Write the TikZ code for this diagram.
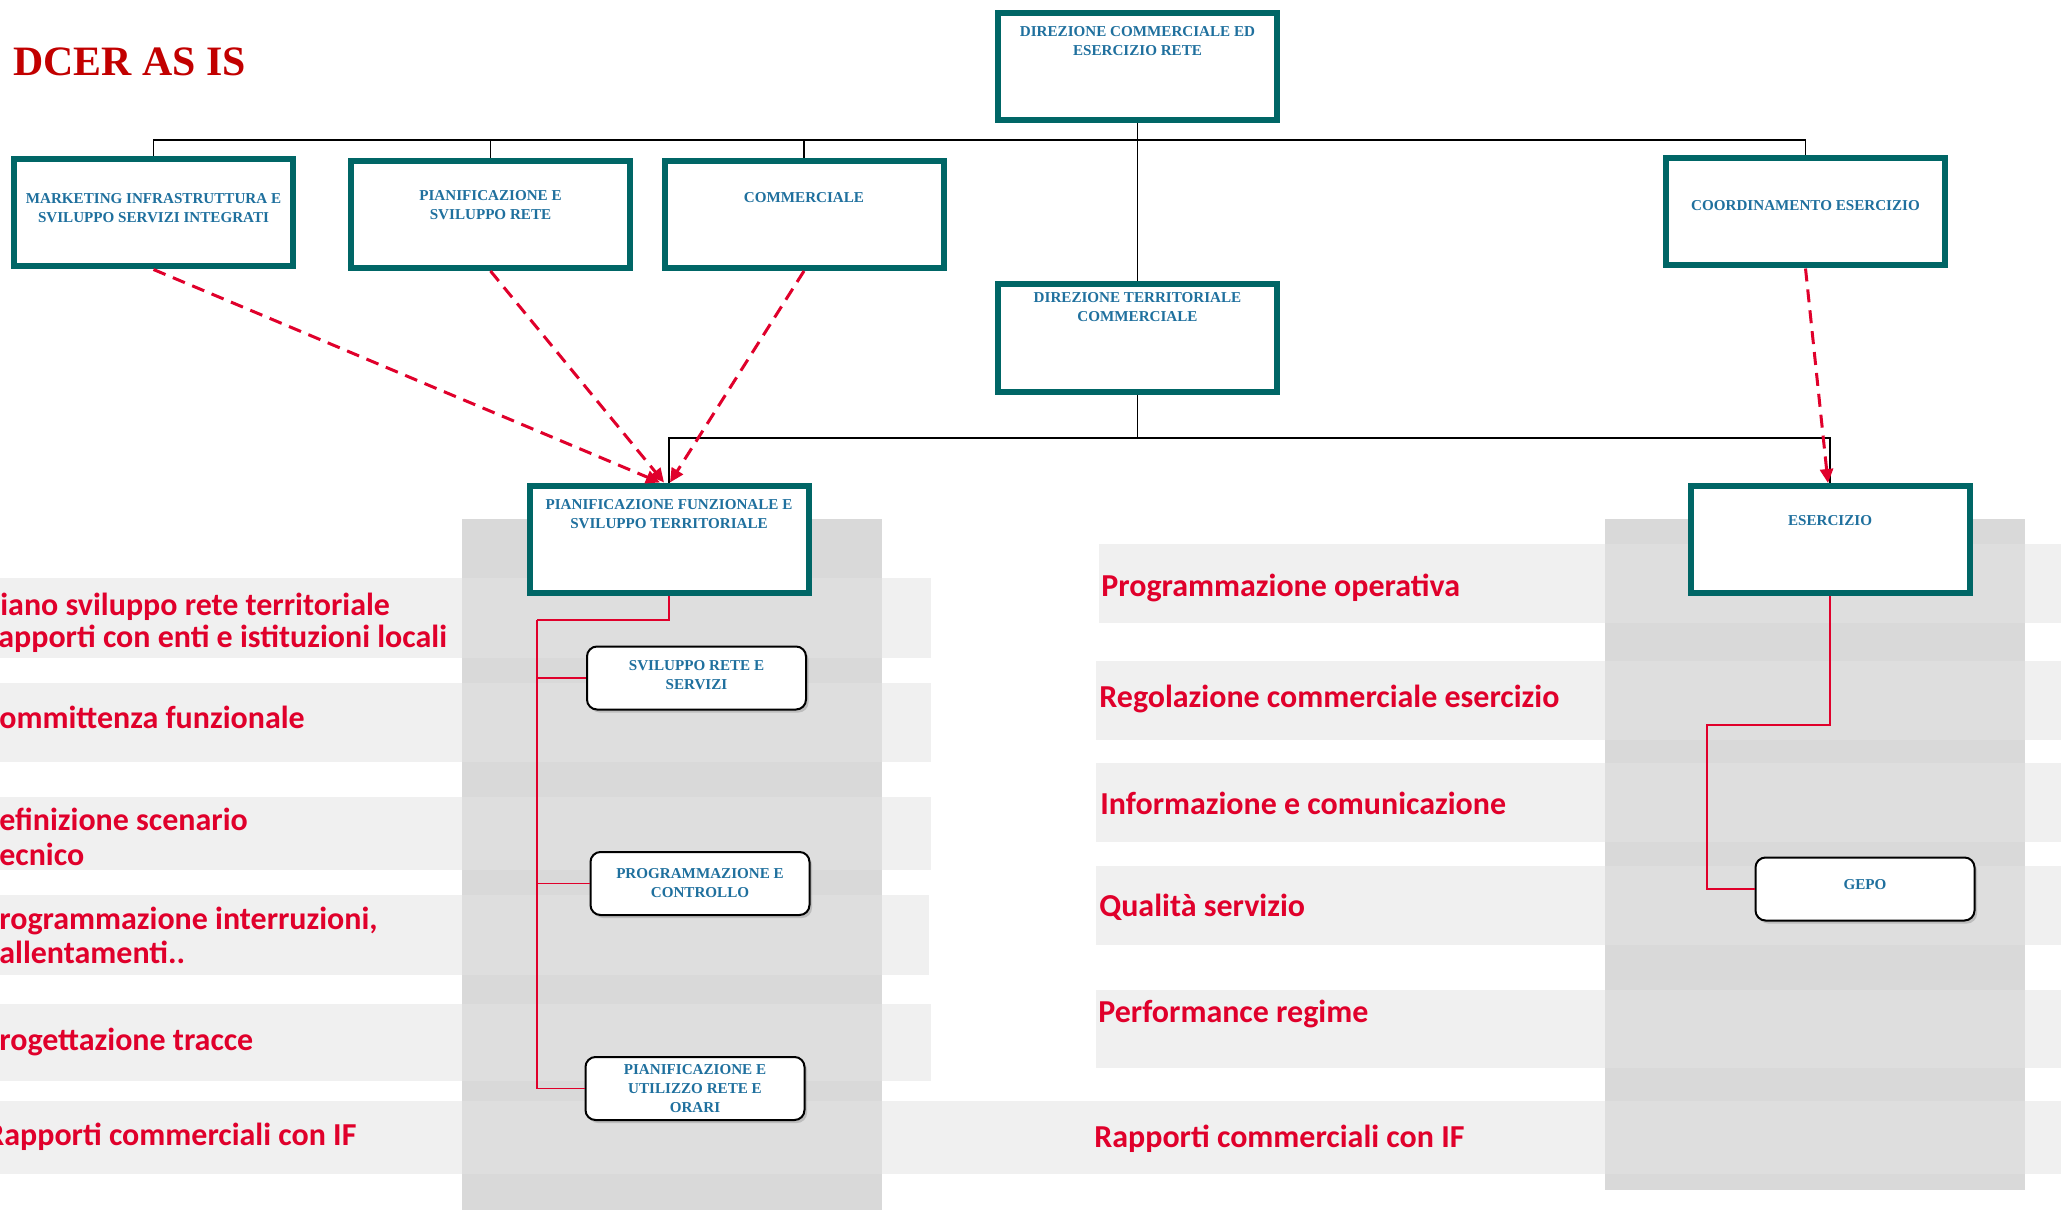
\documentclass[tikz,border=0pt]{standalone}
\usepackage{fontspec}
\setmainfont{Liberation Serif}
\newfontfamily\calfont{Carlito}
\usetikzlibrary{arrows.meta,shadows}

\definecolor{boxteal}{rgb}{0,0.4,0.4}
\definecolor{unitblue}{rgb}{0.12,0.44,0.62}
\definecolor{lblred}{rgb}{0.88,0,0.17}
\definecolor{titlered}{rgb}{0.76,0,0}
\definecolor{colgray}{rgb}{0.85,0.85,0.85}
\definecolor{rowgray}{rgb}{0.89,0.89,0.89}

\tikzset{
  unitbox/.style={draw=boxteal, line width=1.2mm, fill=white, minimum width=55.8mm, minimum height=21.4mm, inner sep=0},
  officebox/.style={draw=black, line width=0.4mm, fill=white, rounded corners=2mm, minimum width=43.8mm, minimum height=12.6mm, inner sep=0, drop shadow={shadow xshift=0.5mm, shadow yshift=-0.6mm, opacity=0.35}},
  unittext/.style={text=unitblue, font=\bfseries\fontsize{8.6}{10.8}\selectfont, align=center, anchor=north, inner sep=0},
  actlabel/.style={text=lblred, font=\calfont\bfseries\fontsize{18.2}{19}\selectfont, anchor=base west, inner sep=0},
  orgline/.style={draw=black, line width=0.3mm},
  subline/.style={draw=lblred, line width=0.35mm},
  dasharrow/.style={draw=lblred, line width=0.6mm, dash pattern=on 2.6mm off 1.6mm, -{Triangle[length=2.8mm,width=2.6mm]}},
}

\begin{document}
\begin{tikzpicture}[x=0.2mm, y=-0.2mm]
        \useasboundingbox (0,0) rectangle (2061,1210);
        \fill[white] (0,0) rectangle (2061,1210);
        \fill[colgray] (462,519) -- (882,519) -- (882,1210) -- (462,1210) -- cycle;      % left column
        \fill[colgray] (1605,519) -- (2025,519) -- (2025,1190) -- (1605,1190) -- cycle;  % right column
        \fill[rowgray, fill opacity=0.53] (0,578) -- (931,578) -- (931,658) -- (0,658) -- cycle;        % rows left
        \fill[rowgray, fill opacity=0.53] (0,683) -- (931,683) -- (931,762) -- (0,762) -- cycle;
        \fill[rowgray, fill opacity=0.53] (0,797) -- (931,797) -- (931,870) -- (0,870) -- cycle;
        \fill[rowgray, fill opacity=0.53] (0,895) -- (929,895) -- (929,975) -- (0,975) -- cycle;
        \fill[rowgray, fill opacity=0.53] (0,1004) -- (931,1004) -- (931,1081) -- (0,1081) -- cycle;
        \fill[rowgray, fill opacity=0.53] (0,1101) -- (2061,1101) -- (2061,1174) -- (0,1174) -- cycle;  % rapporti IF
        \fill[rowgray, fill opacity=0.53] (1099,544) -- (2061,544) -- (2061,623) -- (1099,623) -- cycle; % rows right
        \fill[rowgray, fill opacity=0.53] (1096,661) -- (2061,661) -- (2061,740) -- (1096,740) -- cycle;
        \fill[rowgray, fill opacity=0.53] (1096,763) -- (2061,763) -- (2061,842) -- (1096,842) -- cycle;
        \fill[rowgray, fill opacity=0.53] (1096,866) -- (2061,866) -- (2061,945) -- (1096,945) -- cycle;
        \fill[rowgray, fill opacity=0.53] (1096,990) -- (2061,990) -- (2061,1068) -- (1096,1068) -- cycle;

        \node[anchor=base west, inner sep=0, text=titlered, font=\bfseries\fontsize{23.8}{26}\selectfont] (title) at (13,76) {DCER AS IS};

        \node[actlabel] (l1a) at (0,615) {iano sviluppo rete territoriale};
        \node[actlabel] (l1b) at (-2,647) {apporti con enti e istituzioni locali};
        \node[actlabel] (l2) at (-1,728) {ommittenza funzionale};
        \node[actlabel] (l3a) at (-1,830) {efinizione scenario};
        \node[actlabel] (l3b) at (-1,865) {ecnico};
        \node[actlabel] (l4a) at (-1,929) {rogrammazione interruzioni,};
        \node[actlabel] (l4b) at (-1,963) {allentamenti..};
        \node[actlabel] (l5) at (-1,1050) {rogettazione tracce};
        \node[actlabel] (l6) at (-14,1145) {Rapporti commerciali con IF};
        \node[actlabel] (r1) at (1101,596) {Programmazione operativa};
        \node[actlabel] (r2) at (1099,707) {Regolazione commerciale esercizio};
        \node[actlabel] (r3) at (1100,814) {Informazione e comunicazione};
        \node[actlabel] (r4) at (1099,916) {Qualità servizio};
        \node[actlabel] (r5) at (1098,1022) {Performance regime};
        \node[actlabel] (r6) at (1094,1147) {Rapporti commerciali con IF};

        \node[unitbox] (dir) at (1137.5,66.5) {};
        \node[unitbox] (mkt) at (153.5,213) {};
        \node[unitbox] (psr) at (490.5,214.5) {};
        \node[unitbox] (comm) at (804,214.5) {};
        \node[unitbox] (coord) at (1805.5,212) {};
        \node[unitbox] (dirtc) at (1137.5,338) {};
        \node[unitbox] (pfst) at (669,539) {};
        \node[unitbox] (eser) at (1830,539.5) {};
        \node[officebox] (srs) at (696.5,678) {};
        \node[officebox] (pc) at (700,883.5) {};
        \node[officebox] (pur) at (695,1088.5) {};
        \node[officebox] (gepo) at (1865,889) {};

        \node[unittext] (dirtxt) at (1137.5,26) {DIREZIONE COMMERCIALE ED\\ESERCIZIO RETE};
        \node[unittext] (mkttxt) at (153.5,193) {MARKETING INFRASTRUTTURA E\\SVILUPPO SERVIZI INTEGRATI};
        \node[unittext] (psrtxt) at (490.5,190) {PIANIFICAZIONE E\\SVILUPPO RETE};
        \node[unittext] (commtxt) at (804,192) {COMMERCIALE};
        \node[unittext] (coordtxt) at (1805.5,200) {COORDINAMENTO ESERCIZIO};
        \node[unittext] (dirtctxt) at (1137.5,292) {DIREZIONE TERRITORIALE\\COMMERCIALE};
        \node[unittext] (pfsttxt) at (669,499) {PIANIFICAZIONE FUNZIONALE E\\SVILUPPO TERRITORIALE};
        \node[unittext] (esertxt) at (1830,515) {ESERCIZIO};
        \node[unittext] (srstxt) at (696.5,660) {SVILUPPO RETE E\\SERVIZI};
        \node[unittext] (pctxt) at (700,868) {PROGRAMMAZIONE E\\CONTROLLO};
        \node[unittext] (purtxt) at (695,1064) {PIANIFICAZIONE E\\UTILIZZO RETE E\\ORARI};
        \node[unittext] (gepotxt) at (1865,879) {GEPO};

        \coordinate (topbus) at (1137.5,140);
        \coordinate (lowbus) at (1137.5,438);
        \draw[orgline] (dir.south) -- (dirtc.north);
        \draw[orgline] (topbus) -| (mkt.north);
        \draw[orgline] (topbus) -| (psr.north);
        \draw[orgline] (topbus) -| (comm.north);
        \draw[orgline] (topbus) -| (coord.north);
        \draw[orgline] (dirtc.south) -- (lowbus);
        \draw[orgline] (lowbus) -| (pfst.north);
        \draw[orgline] (lowbus) -| (eser.north);

        \coordinate (ptrunk) at (537,620);
        \draw[subline] (pfst.south) |- (ptrunk);
        \draw[subline] (ptrunk) |- (srs.west);
        \draw[subline] (ptrunk) |- (pc.west);
        \draw[subline] (ptrunk) |- (pur.west);
        \coordinate (etrunk) at (1707,725);
        \draw[subline] (eser.south) |- (etrunk) |- (gepo.west);

        \draw[dasharrow] (mkt.south) -- ([xshift=-1.8mm]pfst.north);
        \draw[dasharrow] (psr.south) -- ([xshift=-1mm]pfst.north);
        \draw[dasharrow] (comm.south) -- ([xshift=0.2mm]pfst.north);
        \draw[dasharrow] (coord.south) -- ([xshift=-0.4mm]eser.north);
\end{tikzpicture}
\end{document}
